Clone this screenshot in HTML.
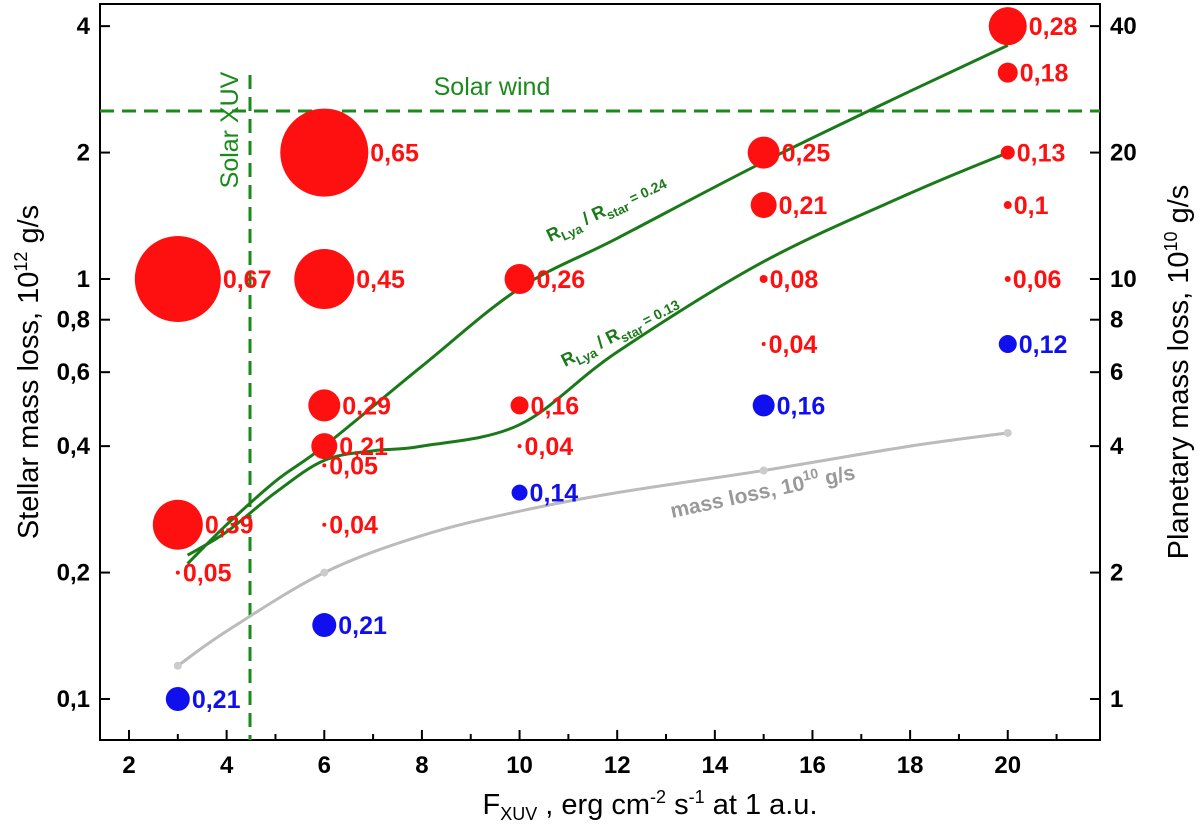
<!DOCTYPE html>
<html><head><meta charset="utf-8"><style>
body{margin:0;background:#fff}
svg{font-family:"Liberation Sans",Arial,sans-serif}
</style></head><body>
<svg id="c" width="1200" height="828"></svg>
<script>
const xs=[3,3,3,3,6,6,6,6,6,6,6,10,10,10,10,15,15,15,15,15,20,20,20,20,20,20];
const ys=[1,0.26,0.2,0.1,2,1,0.5,0.4,0.36,0.26,0.15,1,0.5,0.4,0.31,2,1.5,1,0.7,0.5,4,3.1,2,1.5,1,0.7];
const sizes=[43,25,2,12,44,30,16,13,2,2,12,15,9,2,8,16,13,4,2,11,19,10,7,4,3,9];
const labels=["0,67","0,39","0,05","0,21","0,65","0,45","0,29","0,21","0,05","0,04","0,21","0,26","0,16","0,04","0,14","0,25","0,21","0,08","0,04","0,16","0,28","0,18","0,13","0,1","0,06","0,12"];
const colors=["r","r","r","b","r","r","r","r","r","r","b","r","r","r","b","r","r","r","r","b","r","r","r","r","r","b"];
const upperX=[3.2,4,5,6,8,10,12,15,18,20];
const upperY=[0.21,0.26,0.33,0.40,0.62,0.95,1.25,1.9,2.8,3.6];
const lowerX=[3.2,4,5,6,7,8,10,12,15,18,20];
const lowerY=[0.22,0.25,0.31,0.37,0.39,0.40,0.45,0.67,1.1,1.6,2.0];
const grayX=[3,4,6,8,10,12,15,18,20];
const grayY=[0.12,0.145,0.2,0.245,0.28,0.31,0.35,0.4,0.43];
const xTicks=[2,4,6,8,10,12,14,16,18,20];
const yTicks=[0.1,0.2,0.4,0.6,0.8,1,2,4];
const yTickLabels=["0,1","0,2","0,4","0,6","0,8","1","2","4"];
const rTicks=[1,2,4,6,8,10,20,40];

const NS="http://www.w3.org/2000/svg",svg=document.getElementById('c');
const X=v=>129+(v-2)*48.82;
const Y=v=>279-Math.log10(v)*420;
function el(t,a,p){const e=document.createElementNS(NS,t);for(const k in a)e.setAttribute(k,a[k]);(p||svg).appendChild(e);return e;}
let f=el('rect',{x:100,y:4,width:1000,height:736,fill:'none',stroke:'#000','stroke-width':2});

for(let v=2;v<=21;v++){const major=v%2==0;el('line',{x1:X(v),x2:X(v),y1:740,y2:740-(major?10:6),stroke:'#000','stroke-width':2});}
xTicks.forEach(v=>{const t=el('text',{x:X(v),y:773,'text-anchor':'middle','font-size':24,'font-weight':'bold'});t.textContent=v;
});
yTicks.forEach((v,i)=>{el('line',{x1:100,x2:110,y1:Y(v),y2:Y(v),stroke:'#000','stroke-width':2});
const t=el('text',{x:90,y:Y(v)+8,'text-anchor':'end','font-size':24,'font-weight':'bold'});t.textContent=yTickLabels[i];
});
rTicks.forEach(v=>{const yy=Y(v/10);el('line',{x1:1090,x2:1100,y1:yy,y2:yy,stroke:'#000','stroke-width':2});
const t=el('text',{x:1110,y:yy+8,'font-size':24,'font-weight':'bold'});t.textContent=v;
});
let t=el('text',{x:650,y:814,'text-anchor':'middle','font-size':29});t.innerHTML='F<tspan font-size="18" dy="6">XUV</tspan><tspan dy="-6"> , erg cm</tspan><tspan font-size="18" dy="-11">-2</tspan><tspan dy="11"> s</tspan><tspan font-size="18" dy="-11">-1</tspan><tspan dy="11"> at 1 a.u.</tspan>';

t=el('text',{transform:'translate(38,372) rotate(-90)','text-anchor':'middle','font-size':29});t.innerHTML='Stellar mass loss, 10<tspan font-size="18" dy="-11">12</tspan><tspan dy="11"> g/s</tspan>';

t=el('text',{transform:'translate(1188,372) rotate(-90)','text-anchor':'middle','font-size':29});t.innerHTML='Planetary mass loss, 10<tspan font-size="18" dy="-11">10</tspan><tspan dy="11"> g/s</tspan>';

el('line',{x1:100,x2:1100,y1:111,y2:111,stroke:'#1a8a1a','stroke-width':3,'stroke-dasharray':'14,8'});
el('line',{x1:250,x2:250,y1:75,y2:740,stroke:'#1a8a1a','stroke-width':3,'stroke-dasharray':'14,8'});
t=el('text',{x:492,y:95,'text-anchor':'middle','font-size':25,fill:'#1a8a1a'});t.textContent='Solar wind';

t=el('text',{transform:'translate(238,130) rotate(-90)','text-anchor':'middle','font-size':25,fill:'#1a8a1a'});t.textContent='Solar XUV';

function curve(xa,ya,col,w,name){const P=xa.map((v,i)=>[X(v),Y(ya[i])]);let d='M'+P[0][0]+','+P[0][1];
for(let i=0;i<P.length-1;i++){const p0=P[Math.max(i-1,0)],p1=P[i],p2=P[i+1],p3=P[Math.min(i+2,P.length-1)];
d+='C'+(p1[0]+(p2[0]-p0[0])/6).toFixed(1)+','+(p1[1]+(p2[1]-p0[1])/6).toFixed(1)+' '+(p2[0]-(p3[0]-p1[0])/6).toFixed(1)+','+(p2[1]-(p3[1]-p1[1])/6).toFixed(1)+' '+p2[0].toFixed(1)+','+p2[1].toFixed(1);}
const p=el('path',{d:d,fill:'none',stroke:col,'stroke-width':w,'stroke-linejoin':'round'});
}
curve(grayX,grayY,'#bbb',3,'mass-loss-curve');
grayX.forEach((v,i)=>{if([3,6,15,20].includes(v))el('circle',{cx:X(v),cy:Y(grayY[i]),r:4,fill:'#ccc'});});
curve(upperX,upperY,'#1a7a1a',3,'rlya-024-curve');
curve(lowerX,lowerY,'#1a7a1a',3,'rlya-013-curve');
t=el('text',{transform:'translate(550,242) rotate(-25)','font-size':18,'font-weight':'bold',fill:'#1a7a1a'});t.innerHTML='R<tspan font-size="13" dy="5">Lya</tspan><tspan dy="-5"> / R</tspan><tspan font-size="13" dy="5">star</tspan><tspan dy="-5" font-size="14"> = 0.24</tspan>';

t=el('text',{transform:'translate(565,367) rotate(-27)','font-size':18,'font-weight':'bold',fill:'#1a7a1a'});t.innerHTML='R<tspan font-size="13" dy="5">Lya</tspan><tspan dy="-5"> / R</tspan><tspan font-size="13" dy="5">star</tspan><tspan dy="-5" font-size="14"> = 0.13</tspan>';

t=el('text',{transform:'translate(672,518) rotate(-12)','font-size':21,'font-weight':'bold',fill:'#999'});t.innerHTML='mass loss, 10<tspan font-size="14" dy="-9">10</tspan><tspan dy="9"> g/s</tspan>';

xs.forEach((v,i)=>{const col=colors[i]=='r'?'#ff1010':'#1010ee';
const c=el('circle',{cx:X(v),cy:Y(ys[i]),r:sizes[i],fill:col});

const l=el('text',{x:X(v)+Math.max(sizes[i],3)+2,y:Y(ys[i])+9,'font-size':25,'font-weight':'bold',fill:col});l.textContent=labels[i];
});
</script>
</body></html>
